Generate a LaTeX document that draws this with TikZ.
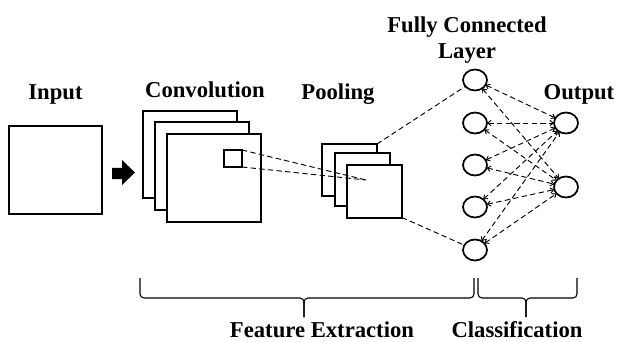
\documentclass[tikz,border=0pt]{standalone}
\usepackage{fontspec}
\setmainfont{Liberation Serif}
\usetikzlibrary{shapes}
\usetikzlibrary{positioning}
\usetikzlibrary{arrows.meta}

\begin{document}
\begin{tikzpicture}[
    x=0.75pt, y=-0.75pt,
    thick,
    font=\bfseries\fontsize{17}{20}\selectfont
]
\tikzset{
    mapbox/.style = {rectangle, draw=black, line width=1.5pt, fill=white, inner sep=0pt, outer sep=0pt},
    inbox/.style = {mapbox, minimum width=69.75pt, minimum height=66pt},
    convbox/.style = {mapbox, minimum width=70.5pt, minimum height=65.25pt},
    poolbox/.style = {mapbox, minimum width=41.25pt, minimum height=39pt},
    kernbox/.style = {mapbox, line width=1.2pt, minimum width=13.5pt, minimum height=12.75pt},
    neuron/.style = {ellipse, draw=black, line width=1.3pt, fill=white, inner sep=0pt, outer sep=0pt, minimum width=18pt, minimum height=15.75pt},
    heading/.style = {anchor=base, align=center},
    edgen/.style = {draw=black, line width=0.7pt, dash pattern=on 4pt off 2.5pt},
    edgea/.style = {edgen, {Straight Barb[length=2.5pt,width=4pt]}-{Straight Barb[length=2.5pt,width=4pt]}},
    bracen/.style = {draw=black, line width=0.8pt, rounded corners=3pt}
}
\useasboundingbox (0,0) rectangle (617,342);
% headings
\node[heading] at (55.5,100) (tin) {Input};
\node[heading] at (205,98) (tconv) {Convolution};
\node[heading] at (338,100) (tpool) {Pooling};
\node[align=center] at (467,40) (tfc) {Fully Connected\\Layer};
\node[heading] at (579,100) (tout) {Output};
% input and maps
\node[inbox] at (55.5,170) (inp) {};
\fill (112,168) -- (122,168) -- (122,160) -- (135,172.5) -- (122,185) -- (122,179) -- (112,179) -- cycle;
\node[convbox] at (190,154.5) (conv1) {};
\node[convbox] at (201.5,166) (conv2) {};
\node[convbox] at (213.5,178) (conv3) {};
\node[kernbox] at (233,158.5) (kern) {};
\node[poolbox] at (349.5,170) (pool1) {};
\node[poolbox] at (362.5,179.5) (pool2) {};
\node[poolbox] at (374.5,191.5) (pool3) {};
\coordinate (focus) at (366,180);
\draw[edgen] (kern.north east) -- (focus);
\draw[edgen] (kern.south east) -- (focus);
% fully connected part
\node[neuron] at (475,80) (fc1) {};
\node[neuron] at (475,123) (fc2) {};
\node[neuron] at (475,165) (fc3) {};
\node[neuron] at (475,207) (fc4) {};
\node[neuron] at (475,250) (fc5) {};
\node[neuron] at (566,123) (out1) {};
\node[neuron] at (566,187) (out2) {};
\draw[edgen] (pool1.north east) -- (fc1);
\draw[edgen] (pool3.south east) -- (fc5);
\draw[edgea] (fc1) -- (out1);
\draw[edgea] (fc1) -- (out2);
\draw[edgea] (fc2) -- (out1);
\draw[edgea] (fc2) -- (out2);
\draw[edgea] (fc3) -- (out1);
\draw[edgea] (fc3) -- (out2);
\draw[edgea] (fc4) -- (out1);
\draw[edgea] (fc4) -- (out2);
\draw[edgea] (fc5) -- (out1);
\draw[edgea] (fc5) -- (out2);
% braces
\coordinate (fel) at (140,278);
\coordinate (fer) at (474,278);
\coordinate (fetip) at (304,317);
\coordinate (cll) at (478,278);
\coordinate (clr) at (577,278);
\coordinate (cltip) at (526,317);
\draw[bracen] (fel) -- (140,298) -- (304,298) -- (fetip);
\draw[bracen] (fer) -- (474,298) -- (304,298) -- (fetip);
\draw[bracen] (cll) -- (478,298) -- (526,298) -- (cltip);
\draw[bracen] (clr) -- (577,298) -- (526,298) -- (cltip);
\node[heading] at (322,337) (tfe) {Feature Extraction};
\node[heading] at (517,337) (tcl) {Classification};
\end{tikzpicture}
\end{document}
